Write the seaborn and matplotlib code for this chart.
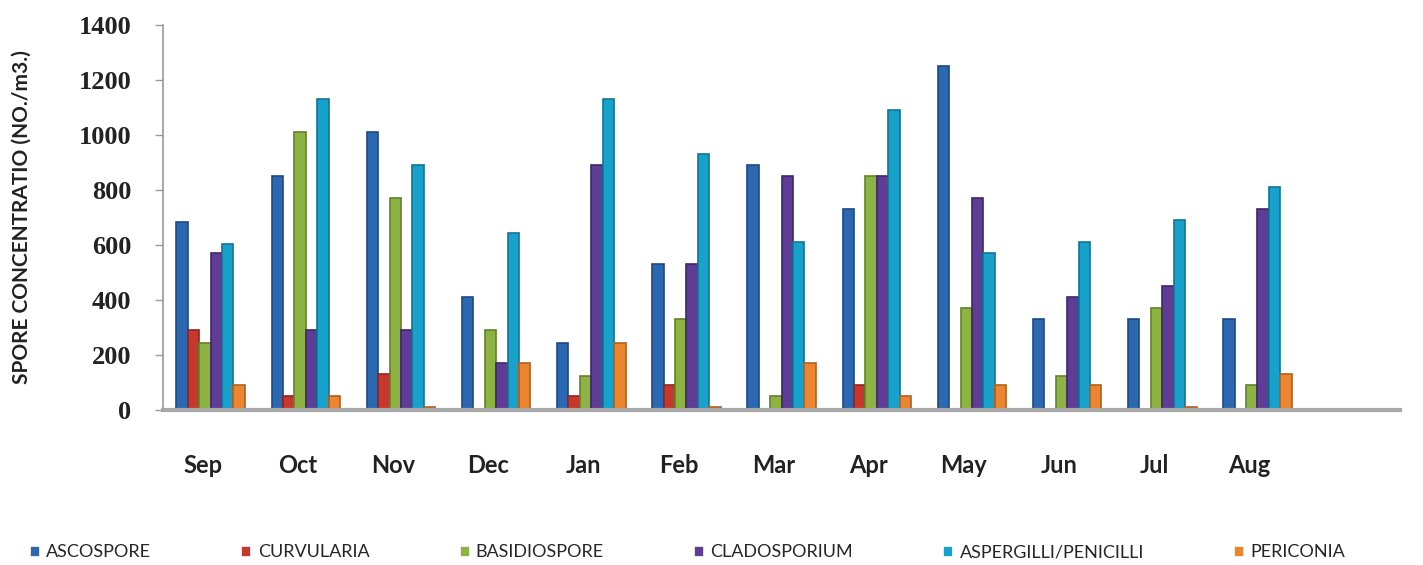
import matplotlib
matplotlib.use('Agg')
import matplotlib.pyplot as plt
import matplotlib.transforms as mtransforms
import seaborn as sns
import pandas as pd
import numpy as np

# meses y valores (NO./m3)
months = ['Sep', 'Oct', 'Nov', 'Dec', 'Jan', 'Feb', 'Mar', 'Apr', 'May', 'Jun', 'Jul', 'Aug']
spores = ['ASCOSPORE', 'CURVULARIA', 'BASIDIOSPORE', 'CLADOSPORIUM', 'ASPERGILLI/PENICILLI', 'PERICONIA']

ascospore = [685, 850, 1010, 410, 245, 530, 890, 730, 1250, 330, 330, 330]
curvularia = [290, 50, 130, 5, 50, 90, 5, 90, 5, 5, 5, 5]
basidiospore = [245, 1010, 770, 290, 125, 330, 50, 850, 370, 125, 370, 90]
cladosporium = [570, 290, 290, 170, 890, 530, 850, 850, 770, 410, 450, 730]
aspergilli = [605, 1130, 890, 645, 1130, 930, 610, 1090, 570, 610, 690, 810]
periconia = [90, 50, 10, 170, 245, 10, 170, 50, 90, 90, 10, 130]

colors = ['#2c67b1', '#c6372e', '#8db443', '#5f3d97', '#18a2cb', '#ec8530']
edges = ['#1d4a85', '#8f251e', '#63822c', '#3f2768', '#0f7595', '#b0601f']

series = [ascospore, curvularia, basidiospore, cladosporium, aspergilli, periconia]
rows = []
for name, vals in zip(spores, series):
    for m, v in zip(months, vals):
        rows.append({'Month': m, 'Spore': name, 'Count': v})
df = pd.DataFrame(rows)

sns.set_style('white')
plt.rcParams['font.family'] = ['Lato', 'DejaVu Sans']

fig = plt.figure(figsize=(14.23, 5.65), dpi=100)
ax = fig.add_axes([0.1146, 0.2743, 0.8694, 0.6815])

sns.barplot(data=df, x='Month', y='Count', hue='Spore', order=months, hue_order=spores,
            palette=colors, saturation=1, width=0.72, gap=0, linewidth=1.2, ax=ax, legend=True)

# bordes mas oscuros para simular el efecto 3D
for cont, ec in zip(ax.containers, edges):
    for bar in cont:
        bar.set_edgecolor(ec)

ax.set_xlim(-0.5, 12.5)
ax.set_ylim(0, 1400)
ax.set_yticks(np.arange(0, 1401, 200))
ax.set_yticklabels([str(v) for v in range(0, 1401, 200)],
                   fontfamily='Liberation Serif', fontweight='bold', fontsize=19, color='#222222')

ax.set_xticks(range(12))
ax.set_xticklabels(months, fontsize=17, fontweight='bold', color='#222222')
ax.tick_params(axis='x', which='major', length=0, pad=32)
ax.set_xticks(np.arange(-0.5, 13, 1), minor=True)
ax.tick_params(axis='x', which='minor', length=10, color='#9a9a9a', width=1, direction='out')
ax.tick_params(axis='y', length=6, color='#9a9a9a', width=1, direction='out', left=True, pad=17)

offset = mtransforms.ScaledTranslation(-8 / 100, 0, fig.dpi_scale_trans)
for lbl in ax.get_xticklabels():
    lbl.set_transform(lbl.get_transform() + offset)

for s in ['top', 'right']:
    ax.spines[s].set_visible(False)
ax.spines['left'].set_color('#9a9a9a')
ax.spines['left'].set_linewidth(1.2)
ax.spines['bottom'].set_color('#a8a8a8')
ax.spines['bottom'].set_linewidth(3)

ax.set_xlabel('')
ax.set_ylabel('SPORE CONCENTRATIO (NO./m3.)', fontsize=15, fontweight='bold', labelpad=34,
              color='#222222')

ax.legend(loc='center', bbox_to_anchor=(0.424, -0.37), ncol=6, frameon=False,
          fontsize=13, handlelength=0.55, handleheight=0.55, handletextpad=0.35,
          columnspacing=5.0)

plt.savefig('out.png', dpi=100)
plt.close()
